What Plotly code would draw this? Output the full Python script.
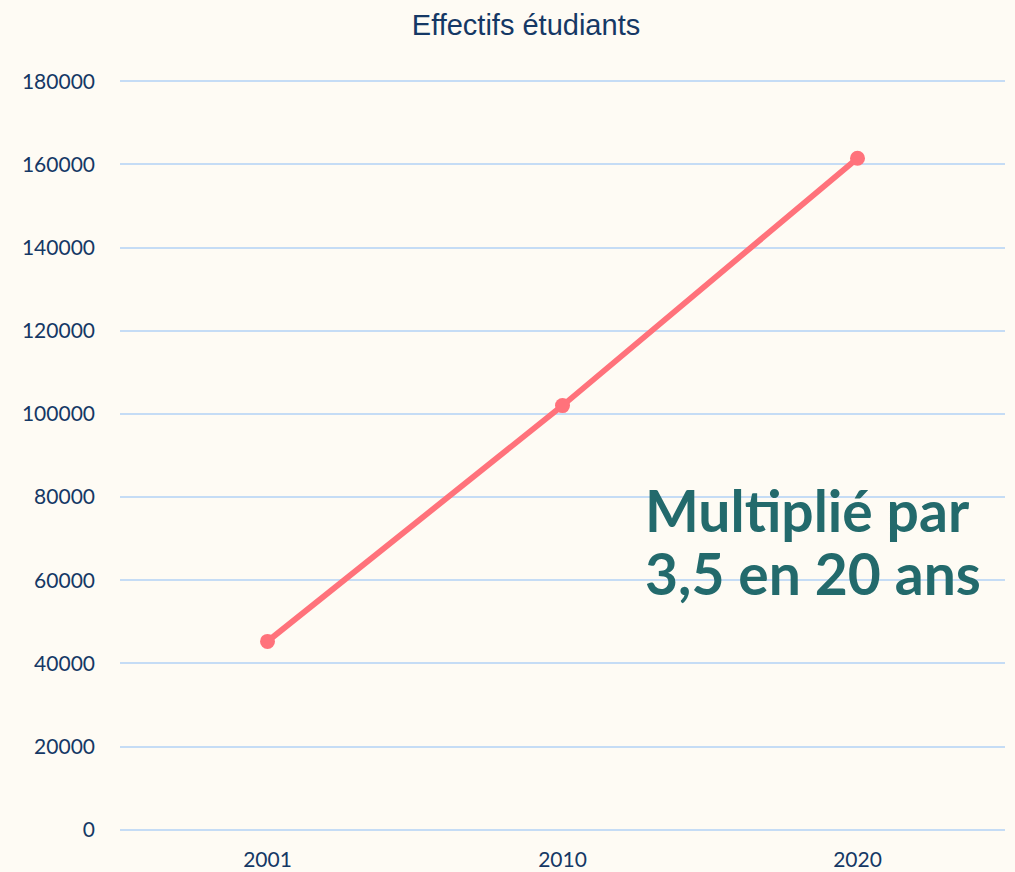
import plotly.graph_objects as go

years = ["2001", "2010", "2020"]
students = [45300, 102000, 161500]
y_ticks = [0, 20000, 40000, 60000, 80000, 100000, 120000, 140000, 160000, 180000]

bg = "#FEFBF4"
PL, PR, PT, PB = 120, 1005, 81, 830  # plot area pixel edges (for 0..180000)
PAD = 300  # small range padding so edge gridlines are drawn
ppu = (PB - PT) / 180000
pad_px = PAD * ppu
T, B = PT - pad_px, PB + pad_px


def px_x(p):
    return (p - PL) / (PR - PL)


def px_y(p):
    return (B - p) / (B - T)


fig = go.Figure()
fig.add_trace(go.Scatter(
    x=years, y=students, mode="lines+markers",
    line=dict(color="#FF727B", width=5.8),
    marker=dict(color="#FF727B", size=15),
    hoverinfo="skip", showlegend=False,
))
fig.update_layout(
    width=1015, height=872,
    paper_bgcolor=bg, plot_bgcolor=bg,
    margin=dict(l=PL, r=1015 - PR, t=T, b=872 - B, autoexpand=False),
    title=dict(text="Effectifs étudiants", x=526 / 1015, xanchor="center", y=1 - 25 / 872, yanchor="middle",
               font=dict(family="Liberation Sans Narrow, Arial Narrow, Liberation Sans, sans-serif", size=29,
                         color="#153865")),
    xaxis=dict(type="category", range=[-0.5, 2.5], showgrid=False, showline=False, zeroline=False,
               automargin=False,
               tickfont=dict(family="Lato, sans-serif", size=21, color="#153865"), ticks="",
               ticklabelstandoff=14),
    yaxis=dict(range=[-PAD, 180000 + PAD], tickvals=y_ticks, ticktext=[str(v) for v in y_ticks],
               gridcolor="#C5DCF5", gridwidth=2, zeroline=False, showline=False, automargin=False,
               tickfont=dict(family="Lato, sans-serif", size=21, color="#153865"), ticks="",
               ticklabelstandoff=24),
    annotations=[
        dict(text="Multiplié par", xref="paper", yref="paper",
             x=px_x(643), y=px_y(510), xanchor="left", yanchor="middle",
             showarrow=False, align="left",
             font=dict(family="Lato, sans-serif", size=57, color="#236A6C", weight="bold")),
        dict(text="3,5 en 20 ans", xref="paper", yref="paper",
             x=px_x(643), y=px_y(573), xanchor="left", yanchor="middle",
             showarrow=False, align="left",
             font=dict(family="Lato, sans-serif", size=57, color="#236A6C", weight="bold")),
    ],
)
fig.write_html("out.html", config={"displayModeBar": False},
               post_script="document.body.style.margin='0';document.body.style.background='" + bg + "';")
